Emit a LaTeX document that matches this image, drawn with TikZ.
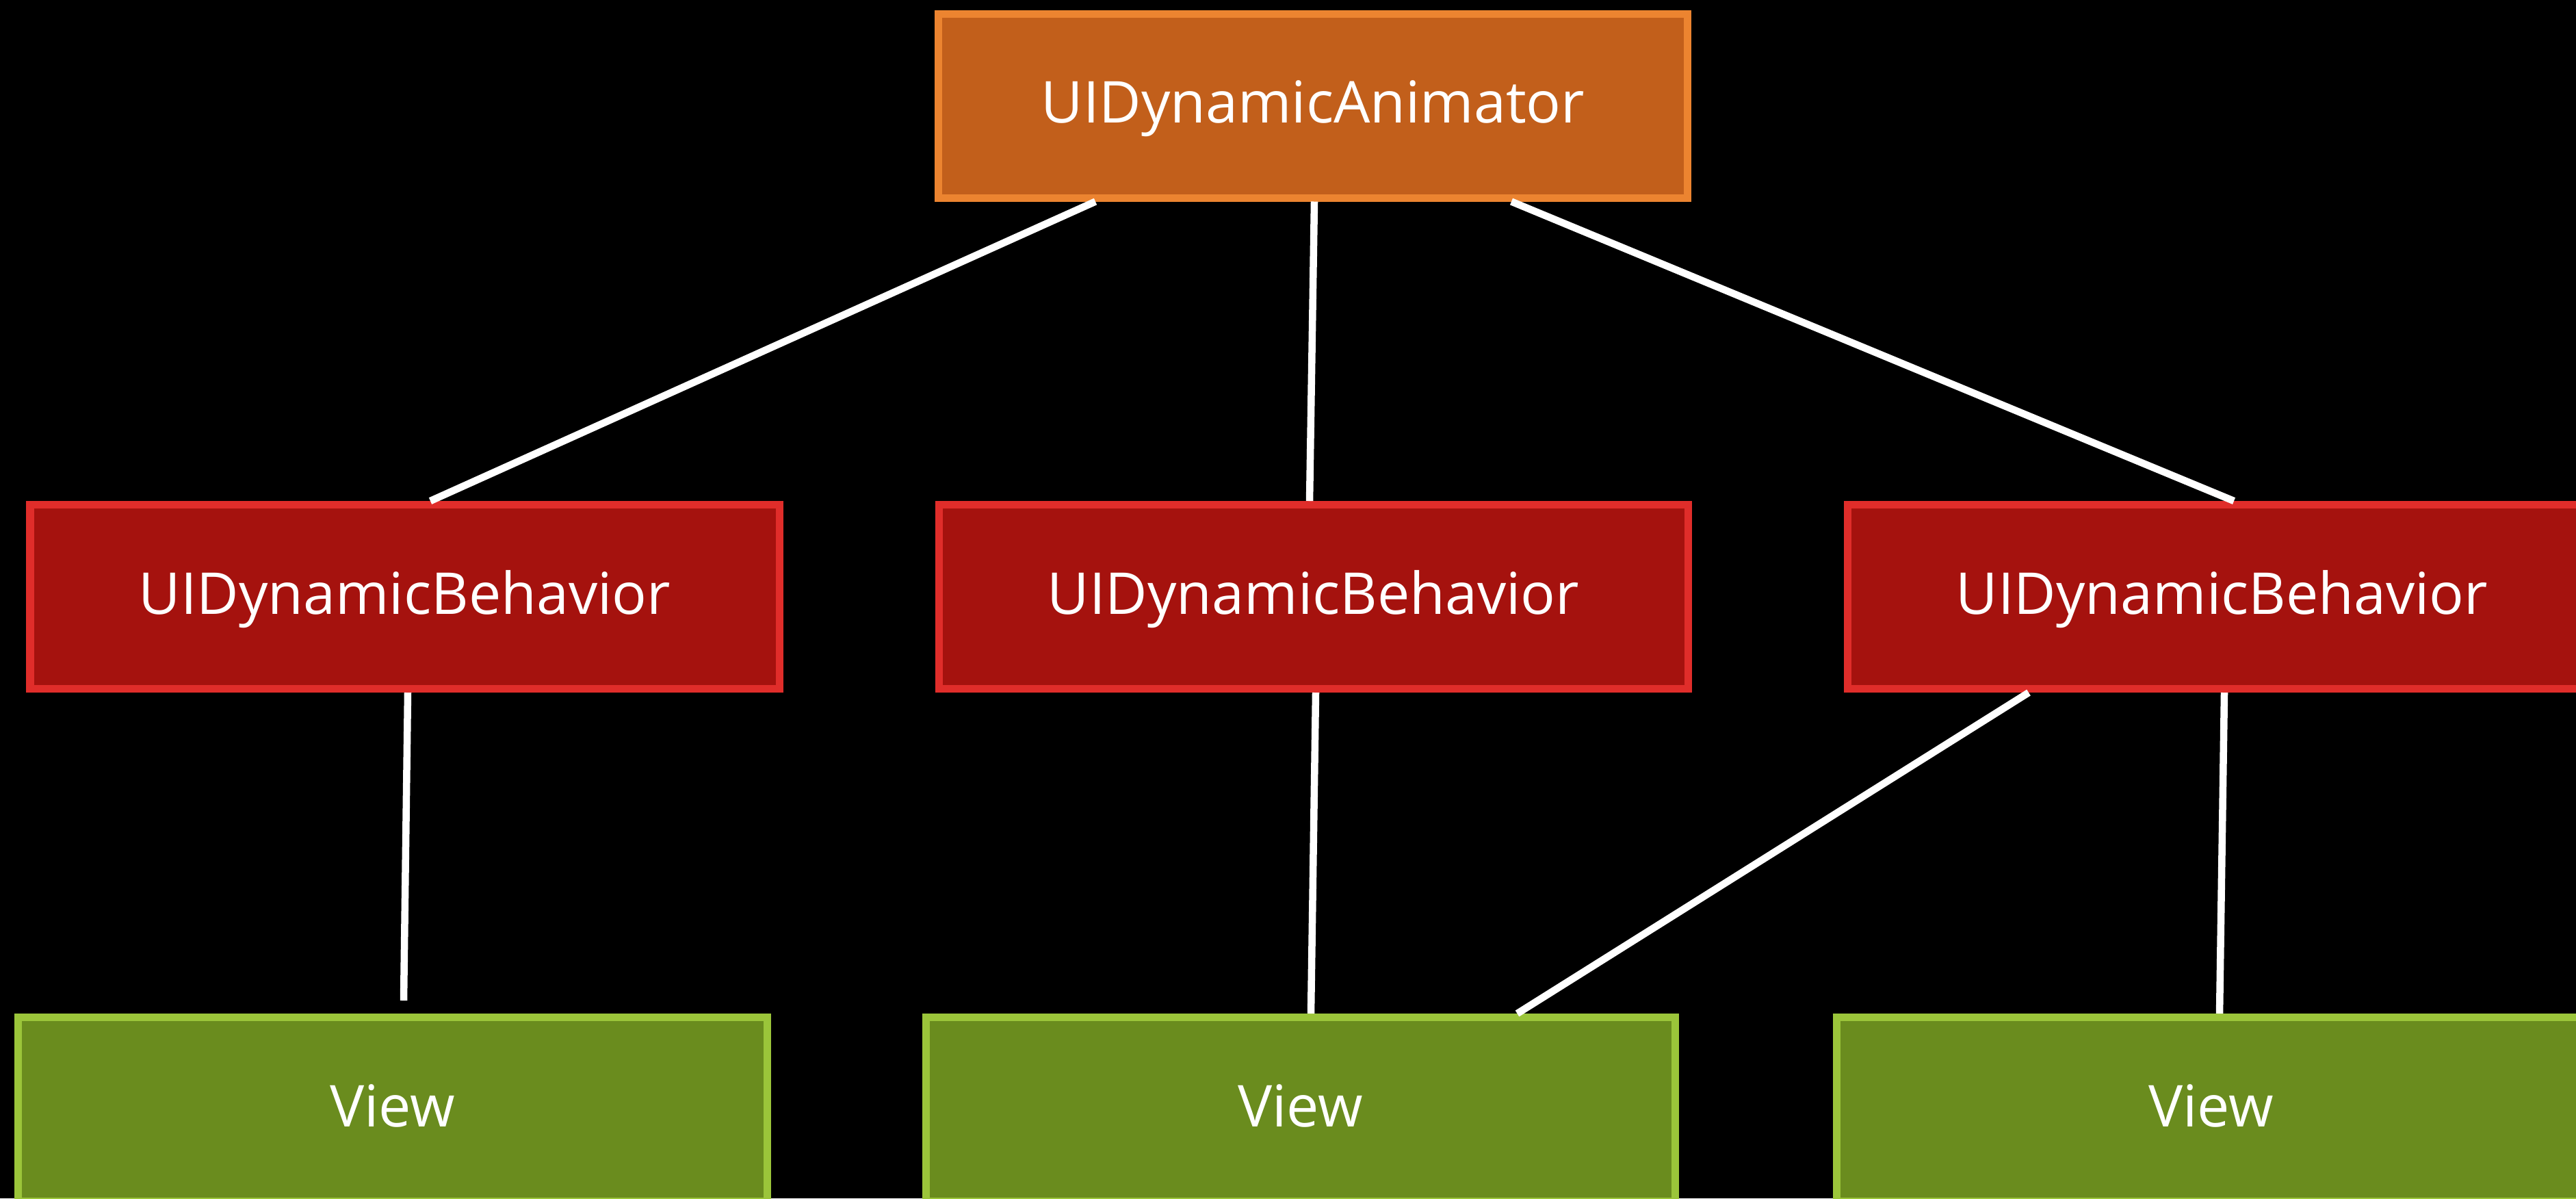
\documentclass[tikz,border=0pt]{standalone}
\usepackage{fontspec}
\setmainfont{Open Sans}
\usetikzlibrary{positioning, calc}

\definecolor{animfill}{HTML}{C25F1B}
\definecolor{animline}{HTML}{EC8430}
\definecolor{behfill}{HTML}{A5120E}
\definecolor{behline}{HTML}{E02D2A}
\definecolor{viewfill}{HTML}{6A8C1E}
\definecolor{viewline}{HTML}{9BC53A}

\begin{document}
\begin{tikzpicture}[>=latex,
    box/.style={rectangle, inner sep=0pt, line width=0.11cm, minimum width=10.95cm, minimum height=2.69cm,
        text=white, font=\fontsize{24}{28}\selectfont, text height=0.5cm, text depth=0pt},
    animbox/.style={box, draw=animline, fill=animfill},
    behbox/.style={box, draw=behline, fill=behfill},
    viewbox/.style={box, draw=viewline, fill=viewfill},
    link/.style={draw=white, line width=0.105cm}]
    \fill[black] (0,0) rectangle (37.65,-17.51);
    \useasboundingbox (0,0) rectangle (37.65,-17.51);
    \clip (0,0) rectangle (37.65,-17.51);

    \node[animbox] (anim) at (19.19,-1.545) {UIDynamicAnimator};

    \node[behbox] (beh1) at (5.915,-8.72) {UIDynamicBehavior};
    \node[behbox] (beh2) at (19.195,-8.72) {UIDynamicBehavior};
    \node[behbox] (beh3) at (32.475,-8.72) {UIDynamicBehavior};

    \node[viewbox] (view1) at (5.735,-16.21) {View};
    \node[viewbox] (view2) at (19.005,-16.21) {View};
    \node[viewbox] (view3) at (32.315,-16.21) {View};

    % animator to behaviors
    \draw[link] ([xshift=-3.18cm]anim.south) -- ([xshift=0.375cm]beh1.north);
    \draw[link] ([xshift=0.02cm]anim.south) -- ([xshift=-0.055cm]beh2.north);
    \draw[link] ([xshift=2.9cm]anim.south) -- ([xshift=0.175cm]beh3.north);

    % behaviors to views
    \draw[link] ([xshift=0.045cm]beh1.south) -- ([xshift=0.165cm, yshift=0.19cm]view1.north);
    \draw[link] ([xshift=0.035cm]beh2.south) -- ([xshift=0.155cm]view2.north);
    \draw[link] ([xshift=-2.825cm]beh3.south) -- ([xshift=3.17cm]view2.north);
    \draw[link] ([xshift=0.035cm]beh3.south) -- ([xshift=0.125cm]view3.north);
\end{tikzpicture}
\end{document}
